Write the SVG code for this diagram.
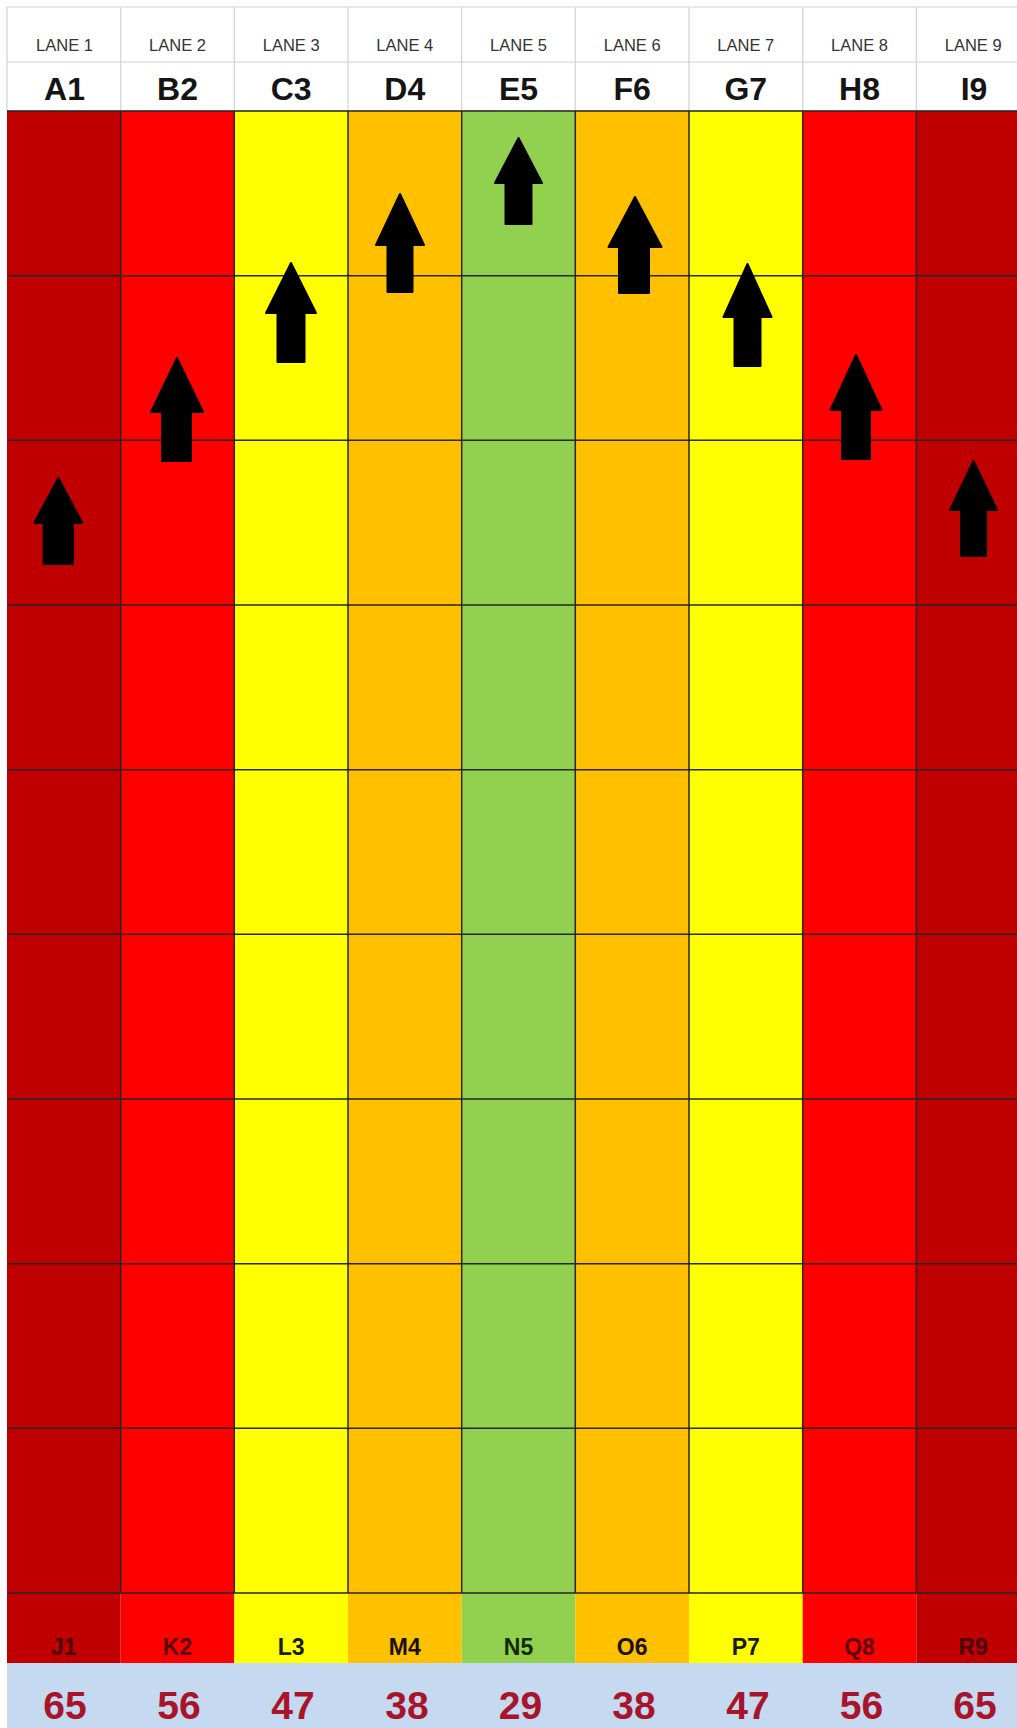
<svg xmlns="http://www.w3.org/2000/svg" width="1017" height="1728" viewBox="0 0 1017 1728">
<style>
.hl{stroke:#d2d2d2;stroke-width:1.2;fill:none}
.gl{stroke:#262626;stroke-width:1.5;fill:none}
.c1{fill:#C00000}.c2{fill:#FF0000}.c3{fill:#FFFF00}.c4{fill:#FFC000}.c5{fill:#92D050}
.lane{font-family:"Liberation Sans",Arial,sans-serif;font-size:16.5px;fill:#333333;text-anchor:middle}
.name{font-family:"Liberation Sans",Arial,sans-serif;font-size:32px;font-weight:bold;fill:#151515;text-anchor:middle}
.bot{font-family:"Liberation Sans",Arial,sans-serif;font-size:23px;font-weight:bold;text-anchor:middle}
.num{font-family:"Liberation Sans",Arial,sans-serif;font-size:39px;font-weight:bold;fill:#A8142A;text-anchor:middle}
.arrow{fill:#000;stroke:#000;stroke-width:2;stroke-linejoin:round}
</style>
<rect x="0" y="0" width="1017" height="1728" fill="#ffffff"/>
<g id="background">
<rect class="c1" x="7" y="111" width="113.7" height="1552"/>
<rect class="c2" x="120.7" y="111" width="113.6" height="1552"/>
<rect class="c3" x="234.3" y="111" width="113.7" height="1552"/>
<rect class="c4" x="348" y="111" width="113.7" height="1552"/>
<rect class="c5" x="461.7" y="111" width="113.6" height="1552"/>
<rect class="c4" x="575.3" y="111" width="113.7" height="1552"/>
<rect class="c3" x="689" y="111" width="113.7" height="1552"/>
<rect class="c2" x="802.7" y="111" width="113.6" height="1552"/>
<rect class="c1" x="916.3" y="111" width="100.7" height="1552"/>
<rect x="7" y="1663" width="1010" height="65" fill="#C5D9F1"/>
</g>
<g id="header-grid">
<path class="hl" d="M7,7H1017M7,62H1017M7,110.5H1017M7,7V111M120.7,7V111M234.3,7V111M348,7V111M461.7,7V111M575.3,7V111M689,7V111M802.7,7V111M916.3,7V111"/>
</g>
<g id="grid">
<path class="gl" d="M7,111H1017M7,275.7H1017M7,440.3H1017M7,605H1017M7,769.7H1017M7,934.3H1017M7,1099H1017M7,1263.7H1017M7,1428.3H1017M7,1593H1017"/>
<path class="gl" d="M120.7,111V1593M234.3,111V1593M348,111V1593M461.7,111V1593M575.3,111V1593M689,111V1593M802.7,111V1593M916.3,111V1593"/>
</g>
<g id="connectors">
<path class="arrow" d="M58.3,478L82.3,523L73,523L73,564L43.6,564L43.6,523L34.3,523Z"/>
<path class="arrow" d="M177,358L203,412L191,412L191,461L162,461L162,412L151,412Z"/>
<path class="arrow" d="M291,263L316,313L304.5,313L304.5,362L277.5,362L277.5,313L266,313Z"/>
<path class="arrow" d="M400,194L424,245L412.5,245L412.5,292L387.5,292L387.5,245L376,245Z"/>
<path class="arrow" d="M518.5,138L542,183L531.5,183L531.5,224L505.5,224L505.5,183L495,183Z"/>
<path class="arrow" d="M635,197L661.5,247L649,247L649,293L619,293L619,247L608.5,247Z"/>
<path class="arrow" d="M747.5,264L771.5,317L760.5,317L760.5,366L734.5,366L734.5,317L723.5,317Z"/>
<path class="arrow" d="M856,355L881.5,410L870,410L870,459L842,459L842,410L830.5,410Z"/>
<path class="arrow" d="M973.5,461L997,510L986,510L986,556L961,556L961,510L950,510Z"/>
</g>
<g id="lane1"><text class="lane" x="64.5" y="51">LANE 1</text><text class="name" x="64.5" y="100">A1</text><text class="bot" x="63.8" y="1655" fill="#4a0000">J1</text><text class="num" x="65" y="1719">65</text></g>
<g id="lane2"><text class="lane" x="177.5" y="51">LANE 2</text><text class="name" x="177.5" y="100">B2</text><text class="bot" x="177.5" y="1655" fill="#5a0000">K2</text><text class="num" x="179" y="1719">56</text></g>
<g id="lane3"><text class="lane" x="291.2" y="51">LANE 3</text><text class="name" x="291.2" y="100">C3</text><text class="bot" x="291.2" y="1655" fill="#1a1a00">L3</text><text class="num" x="293" y="1719">47</text></g>
<g id="lane4"><text class="lane" x="404.8" y="51">LANE 4</text><text class="name" x="404.8" y="100">D4</text><text class="bot" x="404.8" y="1655" fill="#1a1200">M4</text><text class="num" x="407" y="1719">38</text></g>
<g id="lane5"><text class="lane" x="518.5" y="51">LANE 5</text><text class="name" x="518.5" y="100">E5</text><text class="bot" x="518.5" y="1655" fill="#142a00">N5</text><text class="num" x="520.5" y="1719">29</text></g>
<g id="lane6"><text class="lane" x="632.2" y="51">LANE 6</text><text class="name" x="632.2" y="100">F6</text><text class="bot" x="632.2" y="1655" fill="#1a1200">O6</text><text class="num" x="634" y="1719">38</text></g>
<g id="lane7"><text class="lane" x="745.8" y="51">LANE 7</text><text class="name" x="745.8" y="100">G7</text><text class="bot" x="745.8" y="1655" fill="#1a1a00">P7</text><text class="num" x="748" y="1719">47</text></g>
<g id="lane8"><text class="lane" x="859.5" y="51">LANE 8</text><text class="name" x="859.5" y="100">H8</text><text class="bot" x="859.5" y="1655" fill="#5a0000">Q8</text><text class="num" x="861.5" y="1719">56</text></g>
<g id="lane9"><text class="lane" x="973.2" y="51">LANE 9</text><text class="name" x="974" y="100">I9</text><text class="bot" x="973.2" y="1655" fill="#4a0000">R9</text><text class="num" x="975" y="1719">65</text></g>
</svg>
